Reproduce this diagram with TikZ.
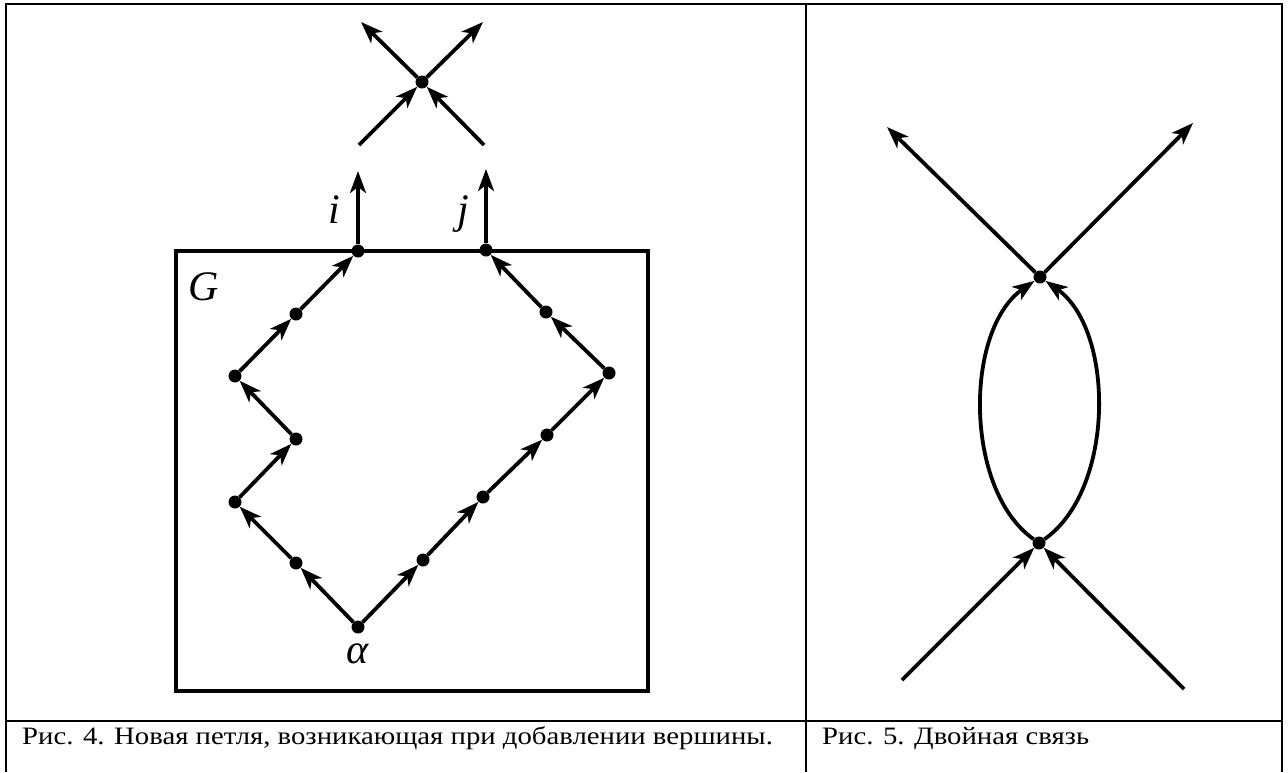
\documentclass[tikz,border=0pt]{standalone}
\usepackage{fontspec}
\setmainfont{Liberation Serif}
\newfontfamily\capfont[FakeStretch=1.15]{Liberation Serif}
\usetikzlibrary{arrows.meta}

\begin{document}
\begin{tikzpicture}[x=1pt,y=-1pt,
  dot/.style={circle, fill=black, inner sep=0pt, minimum size=13pt},
  edge/.style={line width=3.8pt, -{Stealth[length=22pt,width=16pt,inset=6pt]}},
  lbl/.style={font=\fontsize{42}{48}\selectfont\itshape, anchor=base},
  captext/.style={font=\capfont\fontsize{25}{29}\selectfont, anchor=base west, inner sep=0pt}]
\useasboundingbox (0,0) rectangle (1288,772);
% table
\draw[line width=2.5pt] (6,772) -- (6,4) -- (1282,4) -- (1282,772);
\draw[line width=2.5pt] (806,4) -- (806,772);
\draw[line width=2.5pt] (6,721) -- (1282,721);
\node[captext] (c4) at (22,744) {Рис. 4. Новая петля, возникающая при добавлении вершины.};
\node[captext] (c5) at (822,744) {Рис. 5. Двойная связь};

% fig. 4
\draw[line width=3.2pt] (176,251) rectangle (648,691);
\node[lbl] (gG) at (204,300) {G};
\foreach \n/\x/\y in {al/358/627, l1/296/563, l2/235/502, l3/296/439, l4/235/376,
  l5/296/314, ni/358/251, r1/423/560, r2/483/497, r3/547/435, r4/609/373,
  r5/546/312, nj/486/250}
  \node[dot] (\n) at (\x,\y) {};
\node[lbl] (la) at (358,663) {α};
\foreach \a/\b in {al/l1, l1/l2, l2/l3, l3/l4, l4/l5, l5/ni,
  al/r1, r1/r2, r2/r3, r3/r4, r4/r5, r5/nj}
  \draw[edge] (\a) -- (\b);
\coordinate (ti) at (358,171);
\coordinate (tj) at (486,169);
\draw[edge] (ni) -- (ti);
\draw[edge] (nj) -- (tj);
\node[lbl] (li) at (334,223) {i};
\node[lbl] (lj) at (463,223) {j};
\node[dot] (x0) at (422,82) {};
\coordinate (x1) at (359,145);
\coordinate (x2) at (484,145);
\coordinate (x3) at (361,22);
\coordinate (x4) at (483,22);
\draw[edge] (x1) -- (x0);
\draw[edge] (x2) -- (x0);
\draw[edge] (x0) -- (x3);
\draw[edge] (x0) -- (x4);

% fig. 5
\node[dot] (top) at (1040,277) {};
\node[dot] (bot) at (1039,543) {};
\coordinate (ul) at (887,127);
\coordinate (ur) at (1193,123);
\coordinate (ll) at (902,680);
\coordinate (lr) at (1184,689);
\draw[edge] (top) -- (ul);
\draw[edge] (top) -- (ur);
\draw[edge] (ll) -- (bot);
\draw[edge] (lr) -- (bot);
\draw[edge] (bot) .. controls (964,490) and (964,330) .. (top);
\draw[edge] (bot) .. controls (1115,490) and (1115,330) .. (top);
\end{tikzpicture}
\end{document}
